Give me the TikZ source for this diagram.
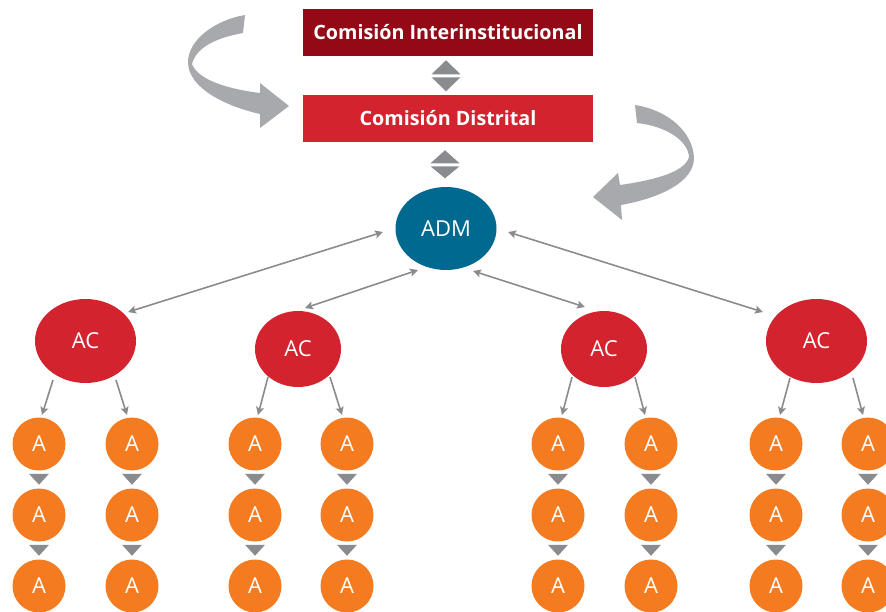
\documentclass[tikz,border=0pt]{standalone}
\usepackage{fontspec}
\setmainfont{Open Sans}
\usetikzlibrary{arrows.meta,calc,shapes.geometric}
\definecolor{cidark}{HTML}{930A16}
\definecolor{cdred}{HTML}{D2232E}
\definecolor{admblue}{HTML}{00698F}
\definecolor{aorange}{HTML}{F47B20}
\definecolor{lnkgray}{HTML}{898B8E}
\definecolor{curvgray}{HTML}{A7A9AC}
\tikzset{
  combox/.style={rectangle, minimum width=217.5pt, minimum height=35.25pt, inner sep=0pt, text=white, font=\bfseries\fontsize{14.8}{17}\selectfont},
  ovalnode/.style={ellipse, inner sep=0pt, text=white, font=\fontsize{16.5}{19}\selectfont},
  anode/.style={circle, fill=aorange, minimum size=39.75pt, inner sep=0pt, text=white, font=\fontsize{16.5}{19}\selectfont},
  tipshape/.tip={Stealth[length=6pt,width=6pt,inset=1.2pt]},
  oneway/.style={draw=lnkgray, line width=1.2pt, -tipshape},
  twoway/.style={draw=lnkgray, line width=1.2pt, tipshape-tipshape},
  tri/.style={fill=lnkgray},
  curved/.style={fill=curvgray}
}
\begin{document}
\begin{tikzpicture}[x=0.75pt,y=-0.75pt]
\useasboundingbox (0,0) rectangle (886,611);
% commissions
\node[combox, fill=cidark] (ci) at (448,32.5) {Comisión Interinstitucional};
\node[combox, fill=cdred] (cd) at (448,118.5) {Comisión Distrital};
% double triangles
\fill[tri] ($(ci.south)+(-2,4)$) -- ++(14.5,14) -- ++(-29,0) -- cycle;
\fill[tri] ($(ci.south)+(-16.5,21)$) -- ++(29,0) -- ++(-14.5,14) -- cycle;
\fill[tri] ($(cd.south)+(-3,8)$) -- ++(14.5,13) -- ++(-29,0) -- cycle;
\fill[tri] ($(cd.south)+(-17.5,24)$) -- ++(29,0) -- ++(-14.5,12) -- cycle;
% curved arrows
\fill[curved] (245,15) .. controls (215,20) and (188,40) .. (188,62)
  .. controls (188,88) and (225,106) .. (260,114) -- (260,128) -- (289,106) -- (260,83) -- (260,93)
  .. controls (228,89) and (198,80) .. (192,64)
  .. controls (196,48) and (215,38) .. (243,33) -- cycle;
\fill[curved] (635,105) .. controls (668,110) and (693,132) .. (694,158)
  .. controls (694,182) and (660,198) .. (621,205) -- (622,220) -- (593,197) -- (618,173) -- (620,185)
  .. controls (655,180) and (685,172) .. (689,157)
  .. controls (688,140) and (665,126) .. (637,123) -- cycle;
% ADM and AC
\node[ovalnode, fill=admblue, minimum width=75.75pt, minimum height=62.25pt] (adm) at (446,228.5) {ADM};
\node[ovalnode, fill=cdred, minimum width=75.75pt, minimum height=63pt] (ac1) at (85.5,341) {AC};
\node[ovalnode, fill=cdred, minimum width=64.5pt, minimum height=57pt] (ac2) at (298,349) {AC};
\node[ovalnode, fill=cdred, minimum width=64.5pt, minimum height=57pt] (ac3) at (604,349) {AC};
\node[ovalnode, fill=cdred, minimum width=75.75pt, minimum height=63pt] (ac4) at (816.5,341) {AC};
\draw[twoway] ($(ac1)+(42.5,-29)$) -- ($(adm)+(-63,3.5)$);
\draw[twoway] ($(ac2)+(7,-41)$) -- ($(adm)+(-28,41.5)$);
\draw[twoway] ($(adm)+(27,42.5)$) -- ($(ac3)+(-19,-42)$);
\draw[twoway] ($(adm)+(62,3.5)$) -- ($(ac4)+(-53.5,-29)$);
% A nodes
\foreach \c/\x in {1/39,2/132,3/255,4/347,5/558,6/651,7/776,8/868}{
  \foreach \r/\y in {1/444,2/515,3/586}{
    \node[anode] (a\c\r) at (\x,\y) {A};
  }
  \fill[tri] ($(a\c1.south)+(-10,3)$) -- ++(20,0) -- ++(-10,11) -- cycle;
  \fill[tri] ($(a\c2.south)+(-10,3)$) -- ++(20,0) -- ++(-10,11) -- cycle;
}
% AC to A arrows
\draw[oneway] ($(ac1)+(-32.5,39)$) -- ($(a11)+(3,-29)$);
\draw[oneway] ($(ac1)+(30.5,39)$) -- ($(a21)+(-5,-29)$);
\draw[oneway] ($(ac2)+(-30,28)$) -- ($(a31)+(3,-29)$);
\draw[oneway] ($(ac2)+(32,28)$) -- ($(a41)+(-5,-29)$);
\draw[oneway] ($(ac3)+(-32,28)$) -- ($(a51)+(4,-29)$);
\draw[oneway] ($(ac3)+(31,28)$) -- ($(a61)+(-6,-29)$);
\draw[oneway] ($(ac4)+(-26.5,37)$) -- ($(a71)+(4,-29)$);
\draw[oneway] ($(ac4)+(36.5,37)$) -- ($(a81)+(-5,-29)$);
\end{tikzpicture}
\end{document}
